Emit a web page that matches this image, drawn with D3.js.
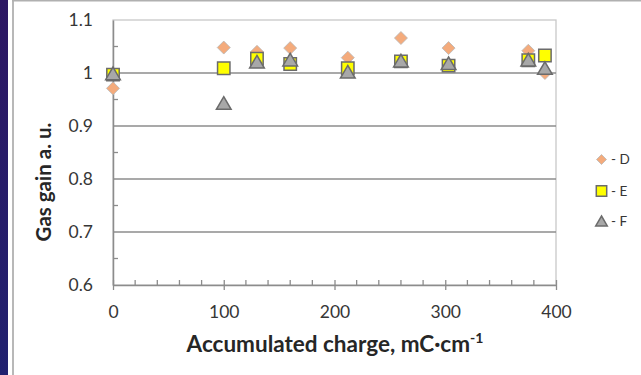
<!DOCTYPE html>
<html><head><meta charset="utf-8">
<script src="https://cdn.jsdelivr.net/npm/d3@7/dist/d3.min.js"></script>
<style>body{margin:0;background:#fff;}svg{display:block;}</style>
</head><body>
<svg id="c" width="641" height="375"></svg>
<script>
const xTicks = [0, 100, 200, 300, 400];
const yTicks = [0.6, 0.7, 0.8, 0.9, 1, 1.1];
const yTickLabels = ["0.6", "0.7", "0.8", "0.9", "1", "1.1"];
const charge = [0, 100, 130, 160, 212, 260, 303, 375, 390];
const seriesD = [0.971, 1.048, 1.040, 1.047, 1.029, 1.066, 1.047, 1.042, 1.000];
const seriesE = [0.997, 1.009, 1.027, 1.017, 1.009, 1.022, 1.014, 1.024, 1.033];
const seriesF = [0.998, 0.942, 1.020, 1.024, 1.001, 1.022, 1.017, 1.024, 1.008];
const seriesNames = ["- D", "- E", "- F"];
const xTitle = "Accumulated charge, mC·cm";
const yTitle = "Gas gain a. u.";

const svg = d3.select("#c");
const font = "Lato, 'Open Sans', sans-serif";
const defs = svg.append("defs");
const g1 = defs.append("linearGradient").attr("id","pg").attr("x1",0).attr("y1",0).attr("x2",0).attr("y2",1);
g1.append("stop").attr("offset","0").attr("stop-color","#2d1763");
g1.append("stop").attr("offset","1").attr("stop-color","#21216f");
svg.append("rect").attr("x",0).attr("y",0).attr("width",8).attr("height",375).attr("fill","url(#pg)");
svg.append("rect").attr("x",12).attr("y",0).attr("width",2).attr("height",375).attr("fill","#b8b8b8");
svg.append("rect").attr("x",12).attr("y",0).attr("width",629).attr("height",1.5).attr("fill","#b0b0b0");

const x = d3.scaleLinear().domain([0,400]).range([113,556]);
const y = d3.scaleLinear().domain([0.6,1.1]).range([285,20]);

// plot frame
svg.append("rect").attr("x",x(0)).attr("y",y(1.1)).attr("width",x(400)-x(0)).attr("height",y(0.6)-y(1.1))
  .attr("fill","none").attr("stroke","#c8c8c8").attr("stroke-width",1.3);

// gridlines
svg.append("g").selectAll("line").data(yTicks.filter(v=>v>0.61 && v<1.09)).join("line")
  .attr("x1",x(0)).attr("x2",x(400)).attr("y1",d=>y(d)).attr("y2",d=>y(d))
  .attr("stroke","#8c8c8c").attr("stroke-width",1.3);

// y axis
const yAxis = d3.axisLeft(y).tickValues(yTicks).tickSize(0).tickPadding(20).tickFormat((d,i)=>yTickLabels[i]);
const ya = svg.append("g").attr("transform",`translate(${x(0)},0)`).call(yAxis);
ya.select(".domain").attr("stroke","#8c8c8c").attr("stroke-width",1.5);
ya.selectAll("text").attr("font-family",font).attr("font-size",17.5).attr("fill","#363636");
// y minor ticks (inside)
const yMinor = d3.range(0.65,1.1,0.1);
svg.append("g").selectAll("line").data(yMinor).join("line")
  .attr("x1",x(0)).attr("x2",x(0)+5).attr("y1",d=>y(d)).attr("y2",d=>y(d))
  .attr("stroke","#8c8c8c").attr("stroke-width",1.3);

// x axis
const xAxis = d3.axisBottom(x).tickValues(xTicks).tickSizeInner(5).tickSizeOuter(0).tickPadding(15.5);
const xa = svg.append("g").attr("transform",`translate(0,${y(0.6)})`).call(xAxis);
xa.select(".domain").attr("stroke","#8c8c8c").attr("stroke-width",1.5);
xa.selectAll(".tick line").attr("stroke","#8c8c8c").attr("stroke-width",1.3).attr("y1",-5).attr("y2",5);
xa.selectAll("text").attr("font-family",font).attr("font-size",17.5).attr("fill","#363636");
const xMinor = d3.range(20,400,20).filter(v=>v%100!==0);
svg.append("g").selectAll("line").data(xMinor).join("line")
  .attr("x1",d=>x(d)).attr("x2",d=>x(d)).attr("y1",y(0.6)).attr("y2",y(0.6)-5)
  .attr("stroke","#8c8c8c").attr("stroke-width",1.3);

// titles
const xt = svg.append("text").attr("x",335).attr("y",352).attr("text-anchor","middle")
  .attr("font-family",font).attr("font-weight","bold").attr("font-size",22.5).attr("fill","#262626");
xt.append("tspan").text(xTitle);
xt.append("tspan").attr("dy",-9).attr("font-size",14).text("-1");
svg.append("text").attr("transform","translate(51,182) rotate(-90)").attr("text-anchor","middle")
  .attr("font-family",font).attr("font-weight","bold").attr("font-size",20.5).attr("fill","#262626").text(yTitle);

// markers
const stroke = "#6b6b6b";
const diamond = (cx,cy,r)=>`M${cx},${cy-r}L${cx+r},${cy}L${cx},${cy+r}L${cx-r},${cy}Z`;
const square = (cx,cy,r)=>`M${cx-r},${cy-r}H${cx+r}V${cy+r}H${cx-r}Z`;
const tri = (cx,cy,r)=>`M${cx},${cy-r}L${cx+r*1.05},${cy+r*0.8}L${cx-r*1.05},${cy+r*0.8}Z`;
const series = [
  {vals:seriesD, path:diamond, r:6.5, fill:"#f4ab7c", sw:0.8, st:"#b8b8b8"},
  {vals:seriesE, path:square, r:6.2, fill:"#ffff00", sw:1.5, st:stroke},
  {vals:seriesF, path:tri, r:7, fill:"#a8a8a8", sw:1.5, st:stroke}
];
series.forEach(s=>{
  svg.append("g").selectAll("path").data(charge).join("path")
    .attr("d",(d,i)=>s.path(x(d),y(s.vals[i]),s.r))
    .attr("fill",s.fill).attr("stroke",s.st).attr("stroke-width",s.sw);
});

// legend
const lg = svg.append("g");
const ly = [159.5, 191, 221.5];
series.forEach((s,i)=>{
  const r = i===0?5:(i===1?5.2:5.5);
  lg.append("path").attr("d",s.path(601.5,ly[i],r)).attr("fill",s.fill).attr("stroke",s.st).attr("stroke-width",s.sw);
  lg.append("text").attr("x",611).attr("y",ly[i]+4.5).attr("font-family",font).attr("font-size",13.5)
    .attr("fill","#363636").text(seriesNames[i]);
});
</script>
</body></html>
